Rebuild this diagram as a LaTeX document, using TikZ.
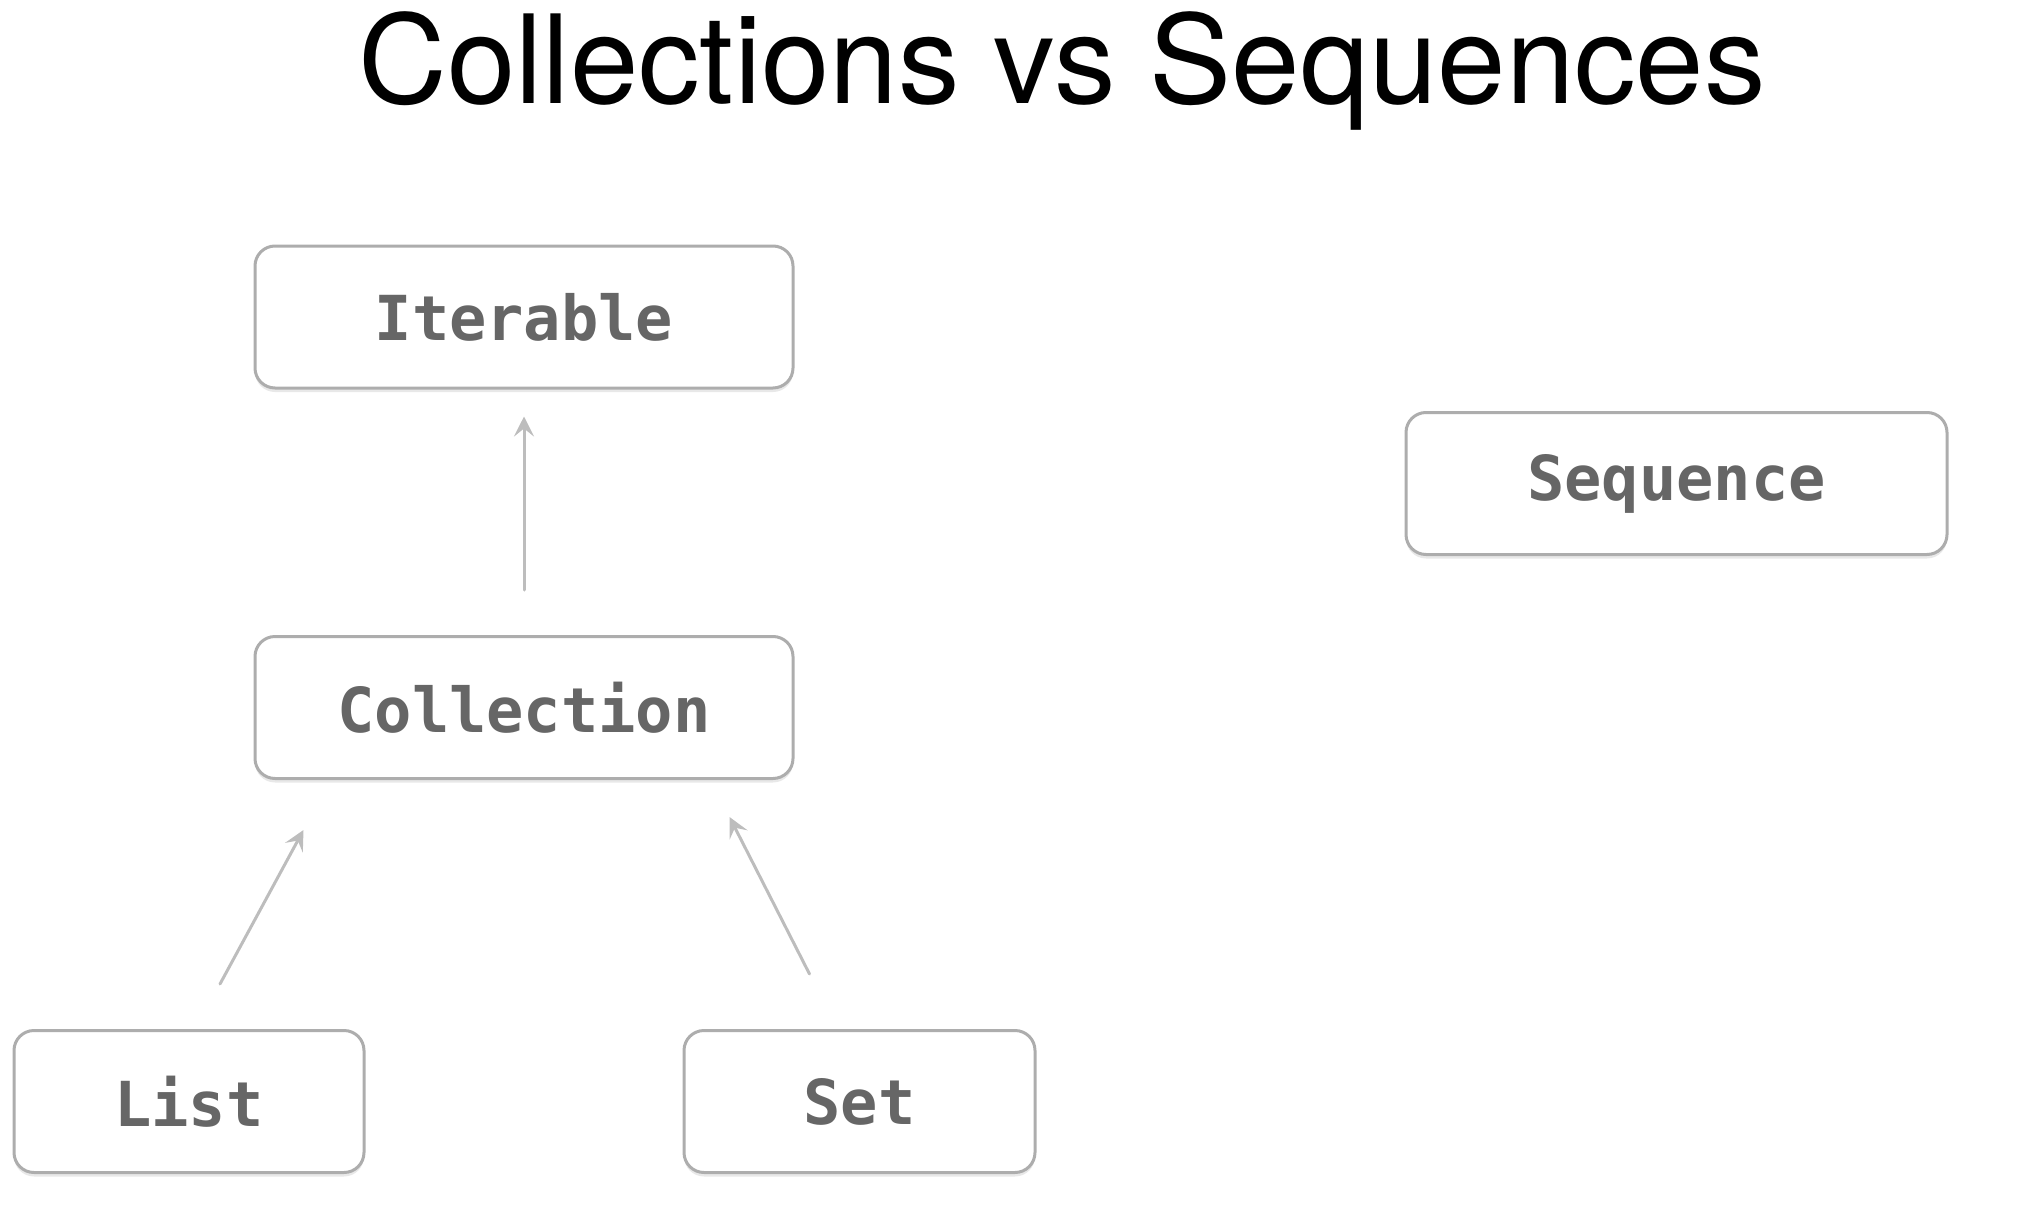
\documentclass[tikz,border=0pt]{standalone}
\usepackage{fontspec}
\setmainfont{TeX Gyre Heros}
\newfontfamily\boxfont{DejaVu Sans Mono}
\usetikzlibrary{calc,arrows.meta,shadows}

\definecolor{boxline}{HTML}{ADADAD}
\definecolor{boxtext}{HTML}{666666}
\definecolor{arrowgray}{HTML}{BDBDBD}

\tikzset{
  typebox/.style={draw=boxline, line width=3pt, rounded corners=20pt,
    fill=white, inner sep=0pt, minimum height=142pt,
    font=\boxfont\bfseries\fontsize{62}{72}\selectfont, text=boxtext,
    drop shadow={shadow xshift=0pt, shadow yshift=-4pt, opacity=0.18}},
  inherits/.style={draw=arrowgray, line width=3pt, line cap=round,
    -{Stealth[length=20pt, width=20pt, inset=8pt]}},
}

\begin{document}
\begin{tikzpicture}[x=1pt, y=-1pt]
  \useasboundingbox (0,0) rectangle (2032,1212);

  % heading
  \node[anchor=base, font=\fontsize{123}{140}\selectfont] (title) at (1062,104)
    {Collections vs Sequences};

  % type hierarchy
  \node[typebox, minimum width=538pt] (iter) at (524,317) {Iterable};
  \node[typebox, minimum width=538pt] (coll) at (524,707.5) {Collection};
  \node[typebox, minimum width=350pt] (list) at (189,1101.5) {List};
  \node[typebox, minimum width=351pt] (set)  at (859.5,1101.5) {Set};
  \node[typebox, minimum width=541pt] (seq)  at (1676.5,483.5) {Sequence};

  % loose connector ends around the boxes
  \coordinate (c-up)  at ($(coll.north)+(0,-45)$);
  \coordinate (i-dn)  at ($(iter.south)+(0,27)$);
  \coordinate (l-up)  at ($(list.north)+(31,-45)$);
  \coordinate (c-dl)  at ($(coll.south west)+(50,50)$);
  \coordinate (s-up)  at ($(set.north)+(-50,-55)$);
  \coordinate (c-dr)  at ($(coll.south east)+(-65,37)$);

  \draw[inherits] (c-up) -- (i-dn);
  \draw[inherits] (l-up) -- (c-dl);
  \draw[inherits] (s-up) -- (c-dr);
\end{tikzpicture}
\end{document}
